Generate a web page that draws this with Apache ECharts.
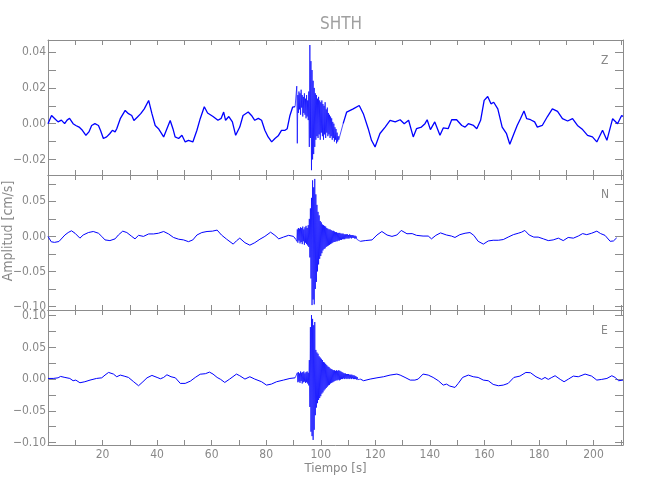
<!DOCTYPE html>
<html><head><meta charset="utf-8">
<script src="https://cdn.jsdelivr.net/npm/echarts@6/dist/echarts.min.js"></script>
<style>html,body{margin:0;padding:0;background:#fff}#c{width:650px;height:500px}</style>
</head><body><div id="c"></div>
<script>
// ---------- DATA ----------
const title = 'SHTH';
const components = ['Z', 'N', 'E'];
const xLabel = 'Tiempo [s]';
const yLabel = 'Amplitud [cm/s]';
const xTickValues = [10,20,30,40,50,60,70,80,90,100,110,120,130,140,150,160,170,180,190,200,210];
const xLabelValues = [20,40,60,80,100,120,140,160,180,200];
const zTickValues = [-0.02,-0.01,0,0.01,0.02,0.03,0.04];
const zLabelValues = [-0.02,0,0.02,0.04];
const neTickValues = [-0.1,-0.075,-0.05,-0.025,0,0.025,0.05,0.075,0.1];
const neLabelValues = [-0.1,-0.05,0,0.05,0.1];
const zRange = [-0.0287, 0.0468];
const nRange = [-0.105, 0.0876];
const eRange = [-0.104, 0.109];
const timeRange = [0, 210.8];

// background (slow) motion: times and amplitudes
const zT = [0,1.3,2.5,3.7,4.9,6.1,7.0,7.9,9.2,10.2,11.4,12.6,13.9,15.0,16.0,17.2,18.5,19.3,20.3,21.5,22.7,23.6,24.6,25.2,26.5,28.3,29.5,30.7,31.5,32.8,34.0,35.3,36.9,38.1,39.3,40.5,42.4,43.6,44.8,45.8,46.6,47.9,49.1,50.3,51.5,53.1,54.6,55.8,57.3,58.5,60.5,62.3,63.5,64.4,65.1,66.3,67.6,68.8,70.3,71.5,73.4,74.6,75.8,77.1,78.3,79.5,80.7,82.0,83.2,84.4,85.6,86.9,87.7,88.7,89.7,90.6,
  108.2,109.5,111.9,114.1,115.6,117.4,118.6,119.9,121.7,123.6,125.4,127.3,129.1,130.6,132.2,133.9,135.1,136.9,138.2,139.0,140.2,141.8,143.7,144.9,146.7,148.0,149.8,151.7,152.9,154.1,156.0,157.2,158.6,159.9,161.2,162.4,163.4,164.9,166.5,168.1,169.3,170.8,172.0,173.2,174.5,175.5,176.9,178.4,179.4,181.2,183.1,184.9,186.8,188.6,190.5,192.3,194.1,196.0,197.8,199.6,201.2,203.3,204.9,207.0,208.8,210.3,210.8];
const zV = [0,0.0046,0.0028,0.001,0.002,0,0.002,0.003,0,-0.001,-0.0019,-0.0037,-0.0065,-0.0046,-0.001,0,-0.001,-0.004,-0.0083,-0.0074,-0.0055,-0.0037,-0.0046,-0.0028,0.0028,0.0074,0.0056,0.0046,0.0018,0.0037,0.0056,0.0083,0.013,0.0056,-0.001,-0.0028,-0.0074,-0.0028,0.0018,-0.0028,-0.0074,-0.0083,-0.0065,-0.0102,-0.0093,-0.0102,-0.0037,0.0028,0.0095,0.006,0.004,0.0019,0.003,0.0065,0.0019,0.004,0.001,-0.0065,-0.0019,0.0046,0.0065,0.0046,0.0019,0.003,0.0019,-0.0037,-0.0074,-0.0102,-0.0083,-0.0068,-0.0037,-0.0037,-0.0028,0.0046,0.0093,0.0096,
  0,0.0065,0.0083,0.0102,0.0056,-0.0028,-0.0093,-0.013,-0.0055,-0.0019,0.0019,0.001,0.0022,0,0.0019,-0.0074,-0.0028,-0.0019,0,0.0022,-0.0033,0.001,-0.0065,-0.0024,-0.0028,0.0022,0.0022,-0.001,-0.0019,0,-0.001,-0.0028,0.0019,0.013,0.0152,0.0111,0.012,0.0083,-0.0019,-0.0056,-0.0115,-0.0056,-0.001,0.0028,0.0071,0.0028,0.0022,0.001,-0.0019,-0.001,0.004,0.0083,0.0069,0.0028,0.0015,0.0028,-0.001,-0.0033,-0.0065,-0.0074,-0.0102,-0.0037,-0.0093,0.0028,0,0.0046,0.004];

const nT = [0,1.2,2.4,4.0,6.2,7.4,8.6,9.9,11.7,12.9,14.8,16.6,18.5,19.7,20.9,22.7,24.6,25.8,27.4,28.9,30.7,31.9,33.2,35.0,36.9,38.7,40.5,42.4,44.2,46.0,47.9,49.7,51.5,53.1,54.6,56.4,58.3,60.3,62.0,63.6,65.5,67.9,69.1,70.3,72.2,74.0,75.8,77.7,79.5,81.6,83.2,84.6,86.3,88.2,90.0,90.8,
  114.5,116.3,118.8,120.6,122.4,124.3,126.1,127.9,129.5,131.6,133.5,135.1,137.5,139.4,140.6,142.2,143.9,146.1,147.9,149.2,151.0,152.9,154.7,156.1,157.7,159.6,161.4,163.2,165.1,166.9,168.7,170.6,172.4,173.6,174.8,176.4,178.1,179.7,181.6,183.4,185.2,187.1,188.9,190.7,192.6,194.4,196.0,197.5,199.3,201.2,202.6,204.2,206.1,207.3,208.5];
const nV = [0,-0.0077,-0.0085,-0.0073,0.002,0.0055,0.008,0.0045,-0.0025,0.002,0.0055,0.007,0.0045,0,-0.005,-0.006,-0.0035,0.002,0.0075,0.0055,0,-0.0035,0.0015,0,0.0035,0.0035,0.0045,0.007,0.0035,-0.0015,-0.004,-0.005,-0.0075,-0.005,0.002,0.0055,0.007,0.0075,0.009,0.002,-0.004,-0.011,-0.0063,-0.0025,-0.009,-0.0125,-0.009,-0.004,0,0.006,0.0015,-0.0035,-0.001,0.0015,0,-0.004,
  -0.007,-0.006,-0.005,0.002,0.007,0.002,0,0.002,0.0085,0.0038,0.004,0.0015,0.0005,0.0005,-0.0035,0.0015,0.005,0.002,0.0005,-0.0015,0.0025,0.0045,0.0055,0.0015,-0.007,-0.011,-0.0065,-0.0055,-0.0055,-0.0045,-0.001,0.0025,0.0045,0.006,0.0085,0.002,-0.001,-0.001,-0.0035,-0.006,-0.005,-0.0025,-0.006,-0.0015,-0.0025,0.0005,0.004,0.0025,0.0045,0.0075,0.004,0.0015,-0.007,-0.0065,-0.002];

const eT = [0,1.9,3.7,4.6,6.2,8.0,9.2,10.2,11.7,13.5,15.4,17.8,19.7,20.9,22.2,24.0,25.2,26.5,27.9,29.5,31.4,33.2,34.8,36.3,38.1,40.0,41.2,42.4,43.6,45.1,46.7,48.5,50.3,52.2,54.0,55.8,57.7,59.2,60.5,62.0,63.3,64.8,66.6,69.1,70.3,72.2,74.0,75.8,78.3,80.1,81.9,83.8,86.3,88.7,90.6,
  114.5,115.7,118.1,120.6,123.0,125.4,127.9,129.1,130.9,132.8,134.5,135.7,137.5,139.4,141.2,143.1,144.9,146.1,147.3,149.2,150.4,152.0,154.1,155.9,157.7,159.6,161.4,163.2,165.1,166.9,168.7,170.8,173.0,175.2,176.9,178.9,181.0,182.2,183.4,184.7,185.9,187.8,189.2,190.8,192.6,194.4,196.9,199.3,201.2,203.0,204.9,206.7,207.9,209.2,210.8];
const eV = [0.001,0.001,0.002,0.0042,0.0026,0.001,-0.0026,-0.0016,-0.0058,-0.0042,-0.0016,0.001,0.002,0.0063,0.0105,0.0079,0.0037,0.0063,0.0047,0.0026,-0.0042,-0.0105,-0.0042,0.002,0.0058,0.0026,0.0005,0.0026,0.0068,0.0037,0.002,-0.0068,-0.0068,-0.0032,0.0026,0.0077,0.0085,0.011,0.0079,0.0026,-0.0005,-0.0053,0,0.0079,0.0053,0,0.0037,0,-0.0042,-0.0095,-0.0079,-0.0042,-0.0016,0.001,0.002,
  0,-0.0026,0,0.002,0.0037,0.0063,0.0079,0.0063,0.0026,-0.0016,-0.0016,0,0.0079,0.0063,0.0026,-0.0026,-0.0095,-0.0079,-0.011,-0.0132,-0.0068,0.0026,0.0063,0.0037,0.0026,-0.0016,-0.0026,-0.0084,-0.0105,-0.0095,-0.0068,0.0026,0.0047,0.0105,0.01,0.0037,-0.0005,0.0026,-0.0005,0.0026,0.0053,-0.0005,-0.0042,0,0.0047,0.0037,0.0079,0.0047,-0.0016,-0.0005,0.001,0.0053,0.0026,-0.0026,-0.0016];

// event window: samples every 0.2 s starting at 91.2 s
const eventStart = 91.2;
const eventStep = 0.2;
const zEvent = [0.021,-0.011,0.016,0.006,0.018,0.008,0.017,0.005,0.019,0.009,0.016,0.004,0.015,0.006,0.017,0.005,0.014,0.003,0.016,0.004,0.013,0.002,0.018,-0.013,0.044,-0.008,0.035,-0.026,0.030,-0.020,0.024,-0.017,0.020,-0.013,0.017,-0.009,0.016,-0.007,0.014,-0.008,0.015,-0.006,0.013,-0.009,0.012,-0.005,0.013,-0.007,0.011,-0.009,0.010,-0.006,0.012,-0.008,0.008,-0.005,0.009,-0.007,0.006,-0.006,0.005,-0.008,0.004,-0.007,0.003,-0.009,0.001,-0.008,0.0,-0.010,-0.002,-0.009,-0.003,-0.011,-0.005,-0.010,-0.007,-0.009,-0.0093];
const nEvent = [-0.007,0.010,-0.009,0.012,-0.006,0.011,-0.010,0.013,-0.008,0.012,-0.011,0.014,-0.007,0.010,-0.012,0.013,-0.009,0.015,-0.011,0.012,-0.013,0.016,-0.015,0.025,-0.030,0.040,-0.060,0.055,-0.098,0.080,-0.090,0.070,-0.097,0.082,-0.075,0.060,-0.065,0.045,-0.050,0.035,-0.040,0.030,-0.032,0.022,-0.028,0.020,-0.024,0.017,-0.020,0.016,-0.018,0.015,-0.017,0.014,-0.015,0.012,-0.014,0.011,-0.013,0.010,-0.012,0.010,-0.011,0.009,-0.010,0.008,-0.009,0.008,-0.008,0.007,-0.008,0.006,-0.007,0.006,-0.007,0.005,-0.006,0.005,-0.006,0.005,-0.005,0.004,-0.005,0.004,-0.004,0.004,-0.004,0.003,-0.004,0.003,-0.003,0.003,-0.003,0.003,-0.003,0.002,-0.003,0.003,-0.002,0.002,-0.003,0.002,-0.002,0.002,-0.002,0.001,-0.003,0.001,-0.003,0.0,-0.004,-0.002,-0.005,-0.004,-0.006];
const eEvent = [0.002,0.010,-0.005,0.011,-0.004,0.009,-0.006,0.012,-0.003,0.010,-0.007,0.011,-0.005,0.012,-0.004,0.009,-0.006,0.011,-0.005,0.012,-0.007,0.010,-0.010,0.030,-0.044,0.082,-0.083,0.101,-0.090,0.095,-0.096,0.085,-0.080,0.090,-0.057,0.046,-0.045,0.042,-0.038,0.040,-0.033,0.036,-0.030,0.034,-0.027,0.032,-0.023,0.030,-0.021,0.027,-0.018,0.026,-0.016,0.024,-0.014,0.022,-0.012,0.020,-0.010,0.019,-0.009,0.017,-0.007,0.016,-0.006,0.015,-0.005,0.014,-0.004,0.014,-0.003,0.013,-0.002,0.014,-0.002,0.013,-0.001,0.014,-0.002,0.013,-0.001,0.012,0.000,0.011,0.000,0.010,0.001,0.009,0.000,0.009,0.001,0.008,0.000,0.008,0.001,0.008,0.000,0.007,0.001,0.007,0.000,0.007,0.001,0.006,0.000,0.006,0.000,0.005,0.000,0.004,-0.001,0.003,-0.001,0.002,0.000];

// ---------- BUILD ----------
function build(ts, vs, ev) {
  const evPts = ev.map((v, i) => [+(eventStart + i * eventStep).toFixed(2), v]);
  const evEnd = evPts[evPts.length - 1][0];
  const before = [], after = [];
  ts.forEach((t, i) => { if (t < eventStart) before.push([t, vs[i]]); else after.push([t, vs[i]]); });
  // background: break at the event window (null) so it is drawn only outside it
  const bg = before.concat([[eventStart + 0.1, null]], after);
  // event: joined to neighbouring background samples
  const evFull = [before[before.length - 1]].concat(evPts, [after[0]]);
  return { bg, ev: evFull };
}
const traces = [build(zT, zV, zEvent), build(nT, nV, nEvent), build(eT, eV, eEvent)];
const ranges = [zRange, nRange, eRange];
const yTicks = [zTickValues, neTickValues, neTickValues];
const yLabs = [zLabelValues, neLabelValues, neLabelValues];

const FONT = "'DejaVu Sans Condensed', 'DejaVu Sans', sans-serif";
const AX = '#8c8c8c';
const TXT = '#888888';
const tops = [40, 175, 310];
const H = 135;

const grid = [], xAxis = [], yAxis = [], series = [];
const fmt = v => (v < -1e-9 ? '\u2212' : '') + Math.abs(v).toFixed(2);

for (let i = 0; i < 3; i++) {
  grid.push({ left: 48, right: 27, top: tops[i], height: H, show: false });
  const last = i === 2;
  xAxis.push({
    type: 'value', gridIndex: i, position: 'bottom', min: timeRange[0], max: timeRange[1],
    axisLine: { show: true, onZero: false, lineStyle: { color: AX, width: 1 } },
    axisTick: { show: true, inside: true, length: 5, customValues: xTickValues, lineStyle: { color: AX } },
    axisLabel: { show: last, customValues: xLabelValues, color: TXT, fontFamily: FONT, fontSize: 12, margin: 4 },
    splitLine: { show: false },
    name: last ? xLabel : '', nameLocation: 'middle', nameGap: 17,
    nameTextStyle: { color: TXT, fontFamily: FONT, fontSize: 13 }
  });
  xAxis.push({
    type: 'value', gridIndex: i, position: 'top', min: timeRange[0], max: timeRange[1],
    axisLine: { show: true, onZero: false, lineStyle: { color: AX, width: 1 } },
    axisTick: { show: true, inside: true, length: 5, customValues: xTickValues, lineStyle: { color: AX } },
    axisLabel: { show: false }, splitLine: { show: false }
  });
  yAxis.push({
    type: 'value', gridIndex: i, position: 'left', min: ranges[i][0], max: ranges[i][1],
    axisLine: { show: true, onZero: false, lineStyle: { color: AX, width: 1 } },
    axisTick: { show: true, inside: true, length: 8, customValues: yTicks[i], lineStyle: { color: AX } },
    axisLabel: { show: true, customValues: yLabs[i], formatter: fmt, color: TXT, fontFamily: FONT, fontSize: 12, margin: 2 },
    splitLine: { show: false }
  });
  yAxis.push({
    type: 'value', gridIndex: i, position: 'right', min: ranges[i][0], max: ranges[i][1],
    axisLine: { show: true, onZero: false, lineStyle: { color: AX, width: 1 } },
    axisTick: { show: true, inside: true, length: 8, customValues: yTicks[i], lineStyle: { color: AX } },
    axisLabel: { show: false }, splitLine: { show: false }
  });
  series.push({
    type: 'line', xAxisIndex: 2 * i, yAxisIndex: 2 * i, data: traces[i].bg, connectNulls: false,
    showSymbol: false, symbol: 'none', animation: false, clip: true,
    lineStyle: { color: '#0000ff', width: i === 0 ? 1.3 : 1 }
  });
  series.push({
    type: 'line', xAxisIndex: 2 * i, yAxisIndex: 2 * i, data: traces[i].ev,
    showSymbol: false, symbol: 'none', animation: false, clip: true,
    lineStyle: { color: '#0000ff', width: 0.7 }
  });
}

const chart = echarts.init(document.getElementById('c'), null, { renderer: 'canvas' });
chart.setOption({
  backgroundColor: '#ffffff',
  animation: false,
  title: { text: title, left: 336, top: 11, textAlign: 'center',
    textStyle: { color: '#a0a0a0', fontFamily: FONT, fontWeight: 'normal', fontSize: 17 } },
  grid, xAxis, yAxis, series,
  graphic: [
    { type: 'text', left: 601, top: 55, style: { text: components[0], fill: TXT, font: "12px 'DejaVu Sans Condensed', 'DejaVu Sans'" } },
    { type: 'text', left: 601, top: 189, style: { text: components[1], fill: TXT, font: "12px 'DejaVu Sans Condensed', 'DejaVu Sans'" } },
    { type: 'text', left: 601, top: 325, style: { text: components[2], fill: TXT, font: "12px 'DejaVu Sans Condensed', 'DejaVu Sans'" } },
    { type: 'text', x: 1, y: 231, rotation: Math.PI / 2,
      style: { text: yLabel, fill: TXT, font: "14px 'DejaVu Sans Condensed', 'DejaVu Sans'", align: 'center', verticalAlign: 'top' } }
  ]
});
</script></body></html>
